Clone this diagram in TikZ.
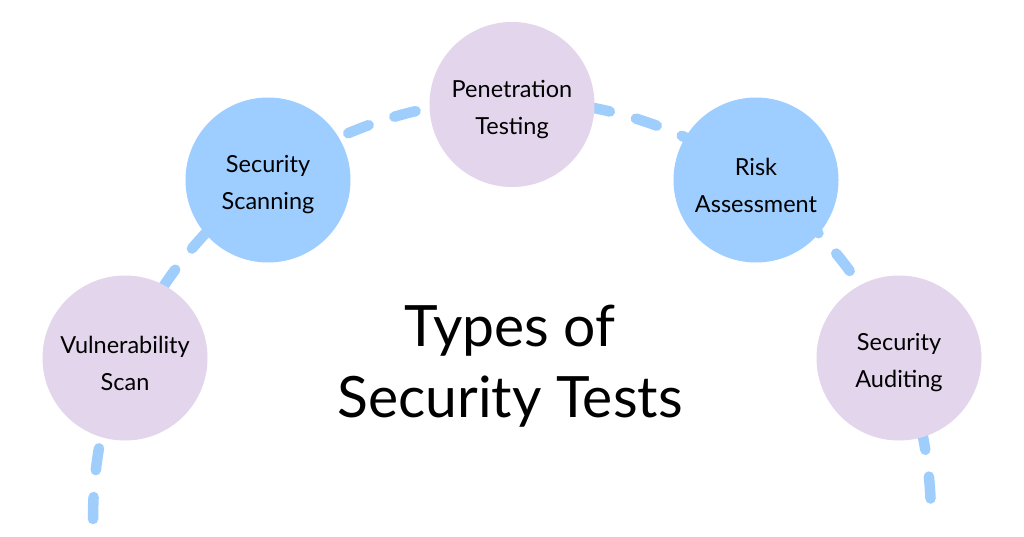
\documentclass[tikz,border=0pt]{standalone}
\usepackage{fontspec}
\setmainfont{Lato}
\definecolor{lilac}{RGB}{227,213,236}
\definecolor{skyblue}{RGB}{158,206,255}
\definecolor{dashblue}{RGB}{160,206,252}
\begin{document}
\begin{tikzpicture}[x=1pt,y=1pt,
  bubble/.style={circle,minimum size=165pt,inner sep=0pt},
  lilacbubble/.style={bubble,fill=lilac},
  bluebubble/.style={bubble,fill=skyblue},
  bubbletext/.style={align=center,inner sep=0pt,yshift=-5pt,
    font=\fontsize{23.5}{37}\selectfont,text=black},
  trail/.style={draw=dashblue,line width=10.5pt,line cap=round,dash pattern=on 22pt off 27pt}]
\fill[white] (0,0) rectangle (1024,536);
\useasboundingbox (0,0) rectangle (1024,536);
\coordinate (arcstart) at (93,17);
\draw[trail] (arcstart) arc[start angle=180,end angle=0,radius=419];
\node[lilacbubble] (vs) at (125,178) {};
\node[bluebubble] (ss) at (268,356) {};
\node[lilacbubble] (pt) at (512,431.5) {};
\node[bluebubble] (ra) at (756,356) {};
\node[lilacbubble] (sa) at (899,178) {};
\node[bubbletext] (vst) at (vs) {Vulnerability\\Scan};
\node[bubbletext] (sst) at (ss) {Security\\Scanning};
\node[bubbletext] (ptt) at (pt) {Penetration\\Testing};
\node[bubbletext] (rat) at (ra) {Risk\\Assessment};
\node[bubbletext] (sat) at (sa) {Security\\Auditing};
\node[align=center,font=\fontsize{57}{71}\selectfont] (title) at (510,170) {Types of\\Security Tests};
\end{tikzpicture}
\end{document}
